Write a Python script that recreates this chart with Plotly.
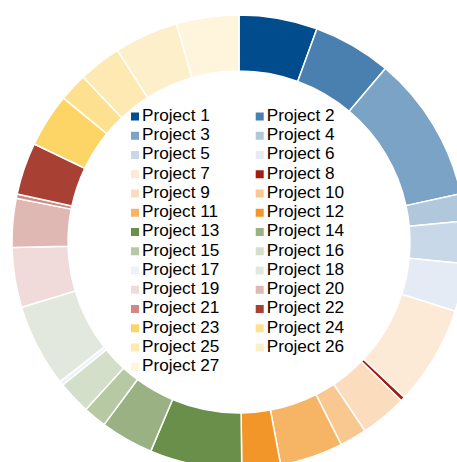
import plotly.graph_objects as go

# Slice shares per project (clockwise from 12 o'clock)
projects = [f"Project {i}" for i in range(1, 28)]
shares = [20.1, 20.1, 37.6, 7.0, 10.8, 12.3, 25.5, 1.1, 12.0, 6.9,
          16.2, 9.9, 23.6, 13.6, 6.0, 8.5, 1.1, 21.3, 15.3, 12.5,
          1.1, 13.4, 13.8, 7.3, 11.0, 16.4, 16.0]
colors = ["#004C8C", "#4A80B0", "#7BA3C6", "#B0C7DC", "#C9D8E8", "#E4EBF4",
          "#FCE9D6", "#A01E12", "#FBDDBE", "#F9C890", "#F6B565", "#F2962A",
          "#6A8F4A", "#99B183", "#B6C9A3", "#D3DFC8", "#EDF1F8", "#E2E8DD",
          "#F0DADA", "#E0B8B3", "#CC8A82", "#A84133", "#FDD466", "#FDE18F",
          "#FEE9B3", "#FEEFCB", "#FEF5DC"]

# Legend grid: two columns, filled row by row
legend_cols = [i % 2 for i in range(len(projects))]
legend_rows = [i // 2 for i in range(len(projects))]
TEXT_GAP = 0.056  # gap between swatch centre and label, in column units

W, H = 470, 472
ML, MT, SIDE = 12, 15, 454
FONT = "Liberation Sans, Arial, sans-serif"

fig = go.Figure()

fig.add_trace(go.Pie(
    labels=projects,
    values=shares,
    sort=False,
    direction="clockwise",
    rotation=0,
    hole=0.753,
    marker=dict(colors=colors, line=dict(color="white", width=1.5)),
    textinfo="none",
    hoverinfo="label+percent",
    showlegend=False,
))

# legend swatches
fig.add_trace(go.Scatter(
    x=legend_cols,
    y=legend_rows,
    mode="markers",
    marker=dict(symbol="square", size=8, color=colors, line=dict(width=0)),
    hoverinfo="skip",
    showlegend=False,
    cliponaxis=False,
))

# legend labels
fig.add_trace(go.Scatter(
    x=[c + TEXT_GAP for c in legend_cols],
    y=legend_rows,
    mode="text",
    text=projects,
    textposition="middle right",
    textfont=dict(family=FONT, size=17.2, color="#000000"),
    hoverinfo="skip",
    showlegend=False,
    cliponaxis=False,
))

fig.update_xaxes(visible=False, range=[-0.9864, 2.6543], fixedrange=True)
fig.update_yaxes(visible=False, range=[18.311, -5.273], fixedrange=True)

fig.update_layout(
    width=W,
    height=H,
    margin=dict(l=ML, t=MT, r=W - ML - SIDE, b=H - MT - SIDE, pad=0),
    paper_bgcolor="white",
    plot_bgcolor="rgba(0,0,0,0)",
    showlegend=False,
    font=dict(family=FONT),
)

fig.write_html("out.html", config={"displayModeBar": False})
